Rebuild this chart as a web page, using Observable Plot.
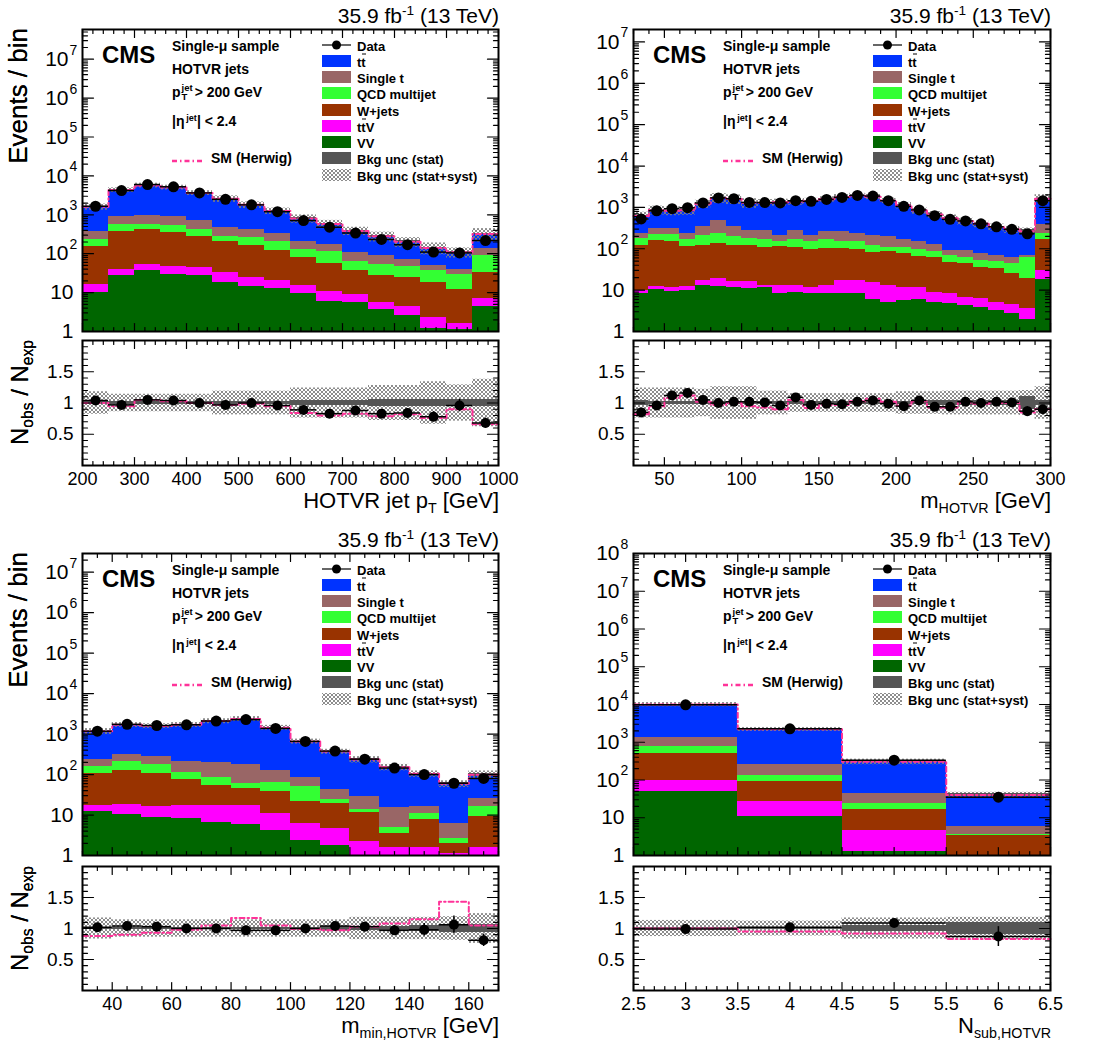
<!DOCTYPE html>
<html>
<head>
<meta charset="utf-8">
<script src="https://cdn.jsdelivr.net/npm/d3@7"></script>
<script src="https://cdn.jsdelivr.net/npm/@observablehq/plot@0.6"></script>
<style>
html,body{margin:0;padding:0;background:#fff;}
#root{position:relative;width:1094px;height:1048px;overflow:hidden;font-family:"Liberation Sans",Arial,Helvetica,sans-serif;color:#000;}
.abs{position:absolute;white-space:nowrap;line-height:1;}
.plotbox{position:absolute;}
sub{font-size:65%;vertical-align:-0.35em;line-height:0;}
sup{font-size:65%;vertical-align:0.55em;line-height:0;}
.ov{position:relative;display:inline-block;}
.ov::before{content:"";position:absolute;left:1px;right:0;top:-2px;border-top:1.4px solid #000;}
.ss{display:inline-flex;flex-direction:column;font-size:68%;line-height:1.05;vertical-align:middle;margin-left:1px;margin-right:2px;}
</style>
</head>
<body>
<svg width="0" height="0" style="position:absolute;left:0;top:0">
<defs>
<pattern id="hatch" patternUnits="userSpaceOnUse" width="4" height="4">
<path d="M0,0L4,4M4,0L0,4M-1,3L1,5M3,-1L5,1M-1,1L1,-1M3,5L5,3" stroke="#808080" stroke-width="0.9" fill="none"/>
</pattern>
</defs>
</svg>
<div id="root"></div>
<script>
// ---------------- DATA ----------------
// Panel A: HOTVR jet pT
const ptEdges   = [200,250,300,350,400,450,500,550,600,650,700,750,800,850,900,950,1000];
const ptData    = [1660,4200,6000,5250,3650,2500,1800,1200,710,480,340,232,170,110,105,218];
const ptTotal   = [1600,4330,5700,5050,3650,2580,1800,1250,800,580,386,280,202,141,109,320]; // top of tt̄ layer
const ptSingleT = [380,920,960,920,710,470,410,325,205,170,107,92,70,50,39,134];           // top of single t layer
const ptQCD     = [227,575,550,530,420,280,265,210,126,112,63,52,48,37,29,90];
const ptWjets   = [156,370,430,360,280,210,160,118,80,57,36,27,25,18.6,11.8,32];
const ptTTV     = [16,40,53,48,45,32,24,21,15,10.7,8.9,5.7,4.5,2.3,1.6,7.2];
const ptVV      = [10,27,36,29,27,18,14,13,9.3,6,5.7,3.6,2.6,1.2,1.15,4.4];
const ptRatio   = [1.04,0.97,1.05,1.04,1.0,0.97,1.0,0.96,0.89,0.83,0.88,0.83,0.84,0.78,0.96,0.68];
const ptRatioErr= [0.02,0.015,0.015,0.015,0.02,0.02,0.025,0.03,0.04,0.045,0.05,0.06,0.07,0.08,0.1,0.08];
const ptSyst    = [0.18,0.14,0.14,0.14,0.14,0.19,0.19,0.19,0.24,0.24,0.24,0.28,0.28,0.34,0.29,0.38];
const ptStat    = [0.025,0.02,0.02,0.02,0.02,0.025,0.025,0.03,0.04,0.045,0.045,0.05,0.05,0.05,0.06,0.05];
const ptHerwig  = [1.0,0.95,1.05,1.03,1.0,0.97,0.99,0.95,0.84,0.8,0.83,0.79,0.82,0.76,0.9,0.66];
const ptXTicks  = [200,300,400,500,600,700,800,900,1000];

// Panel B: m_HOTVR
const mEdges   = [30,40,50,60,70,80,90,100,110,120,130,140,150,160,170,180,190,200,210,220,230,240,250,260,270,280,290,300];
const mData    = [525,830,930,985,1280,1700,1620,1320,1310,1280,1450,1400,1560,1740,1950,1880,1450,1060,870,630,515,470,400,340,295,230,1450];
const mTotal   = [618,865,830,850,1220,1700,1590,1290,1300,1330,1330,1440,1580,1780,1910,1810,1460,1120,840,670,550,460,400,333,292,264,1610];
const mSingleT = [240,310,310,240,340,470,350,275,275,204,275,212,258,258,228,208,196,166,148,128,89,92,75,70,62,70,395];
const mQCD     = [178,219,219,163,207,240,196,182,172,148,163,151,163,148,148,117,109,107,94,87,67,62,52,50,45,60,228];
const mWjets   = [119,157,151,113,119,135,119,119,109,114,109,94,99,99,94,82,85,79,66,60,47,43,36,33,25,19,163];
const mTTV     = [9.8,12.4,11.7,12.4,17,19.4,16.1,16.1,12.9,12.9,12.9,11.7,12.9,17,17,15.5,12.9,11.7,11.7,8.9,8.1,6.7,6.4,5.1,4.5,3.5,30];
const mVV      = [8.1,10.1,9.4,9.8,12.9,12.4,11.3,10.7,11.7,8.1,8.7,8.1,8.4,8.4,8.4,6.1,5.1,5.6,6.1,5.1,4.7,4.2,3.9,3.2,2.7,2.0,17.6];
const mRatio   = [0.85,0.96,1.12,1.16,1.05,1.0,1.02,1.02,1.01,0.96,1.09,0.97,0.99,0.98,1.02,1.04,0.99,0.95,1.04,0.94,0.94,1.02,1.0,1.02,1.01,0.87,0.90];
const mRatioErr= [0.045,0.035,0.035,0.035,0.03,0.025,0.025,0.03,0.03,0.03,0.03,0.03,0.025,0.025,0.025,0.025,0.03,0.03,0.035,0.04,0.045,0.045,0.05,0.055,0.06,0.07,0.03];
const mSyst    = [0.24,0.24,0.24,0.24,0.22,0.26,0.26,0.26,0.19,0.19,0.15,0.15,0.15,0.15,0.15,0.15,0.15,0.18,0.18,0.18,0.19,0.19,0.19,0.19,0.19,0.2,0.26];
const mStat    = [0.04,0.03,0.03,0.03,0.03,0.03,0.03,0.03,0.03,0.03,0.03,0.03,0.03,0.03,0.03,0.03,0.03,0.03,0.03,0.035,0.035,0.035,0.04,0.04,0.04,0.1,0.04];
const mHerwig  = [0.82,0.95,1.08,1.12,1.02,0.97,1.0,0.95,0.93,0.9,1.05,0.92,0.97,0.97,1.03,1.07,1.02,0.96,1.03,0.93,0.93,1.0,0.99,1.0,1.0,0.85,0.9];
const mXTicks  = [50,100,150,200,250,300];

// Panel C: m_min,HOTVR
const minEdges   = [30,40,50,60,70,80,90,100,110,120,130,140,150,160,170];
const minData    = [1180,1740,1630,1700,2100,2280,1380,660,380,240,145,100,61,80];
const minTotal   = [1170,1690,1580,1700,2100,2375,1440,660,370,235,151,104,59,99];
const minSingleT = [240,315,275,205,200,180,128,87,42,28,15,16.7,6.3,25];
const minQCD     = [155,205,180,112,84,60,62,51,24,14,5.0,10.8,2.7,15.8];
const minWjets   = [104,128,105,75,54,45,39,22,19,11.4,3.4,7.7,2.0,9.0];
const minTTV     = [17.4,18,16.4,17.4,17.4,17.4,10.8,6.1,4.6,2.2,1.6,1.6,1.1,1.6];
const minVV      = [11.9,10.6,8.9,8.1,6.5,5.9,4.2,2.4,1.8,0.8,0.8,0.8,0.8,0.8];
const minRatio   = [1.02,1.04,1.03,1.0,1.0,0.97,0.97,1.0,1.04,1.03,0.97,0.98,1.06,0.81];
const minRatioErr= [0.03,0.025,0.025,0.025,0.02,0.02,0.03,0.04,0.05,0.07,0.08,0.1,0.14,0.1];
const minSyst    = [0.17,0.14,0.14,0.14,0.14,0.14,0.14,0.14,0.14,0.18,0.18,0.18,0.19,0.24];
const minStat    = [0.015,0.015,0.015,0.015,0.015,0.015,0.02,0.02,0.03,0.035,0.04,0.05,0.06,0.07];
const minHerwig  = [0.88,0.9,0.93,0.98,1.05,1.17,1.05,0.99,0.97,1.03,1.08,1.15,1.43,1.05];
const minXTicks  = [40,60,80,100,120,140,160];

// Panel D: N_sub,HOTVR
const nEdges   = [2.5,3.5,4.5,5.5,6.5];
const nData    = [9800,2270,335,35];
const nTotal   = [10000,2200,305,40];
const nSingleT = [1370,250,43,5.7];
const nQCD     = [790,132,24.4,3.6];
const nWjets   = [495,93,16.2,3.3];
const nTTV     = [99,27.5,4.7,0.9];
const nVV      = [50,10.6,1.3,0.8];
const nRatio   = [0.99,1.02,1.09,0.87];
const nRatioErr= [0.01,0.02,0.06,0.16];
const nSyst    = [0.13,0.12,0.17,0.18];
const nStat    = [0.015,0.02,0.05,0.1];
const nHerwig  = [1.0,0.95,0.92,0.83];
const nXTicks  = [2.5,3,3.5,4,4.5,5,5.5,6,6.5];

// Text
const lumiText = '35.9 fb<sup>-1</sup> (13 TeV)';
const infoLines = ['Single-\u03bc sample', 'HOTVR jets', 'p<span class="ss"><span>jet</span><span>T</span></span>&gt; 200 GeV', '|\u03b7<sup>&thinsp;jet</sup>| &lt; 2.4'];
const herwigLabel = 'SM (Herwig)';
const legendLabels = ['Data', 't<span class="ov">t</span>', 'Single t', 'QCD multijet', 'W+jets', 't<span class="ov">t</span>V', 'VV', 'Bkg unc (stat)', 'Bkg unc (stat+syst)'];
const yTitleMain = 'Events / bin';
const yTitleRatio = 'N<sub>obs</sub> / N<sub>exp</sub>';

const C = {tt:"#0033ff", st:"#996666", qcd:"#33ff33", w:"#993300", ttv:"#ff00ff", vv:"#006600", stat:"#555555", herwig:"#ff3399"};
const legendKinds = ["data", C.tt, C.st, C.qcd, C.w, C.ttv, C.vv, C.stat, "hatch"];

const panels = [
  {fx0:82, fx1:498, fy0:29, fy1:331, ry0:340, ry1:465, ymax:5.8e7, edges:ptEdges, data:ptData, total:ptTotal, st:ptSingleT, qcd:ptQCD, w:ptWjets, ttv:ptTTV, vv:ptVV,
   ratio:ptRatio, rerr:ptRatioErr, syst:ptSyst, stat:ptStat, herwig:ptHerwig, xTicks:ptXTicks, xMinorStep:20, xTitle:'HOTVR jet p<sub>T</sub> [GeV]'},
  {fx0:633, fx1:1050, fy0:29, fy1:331, ry0:340, ry1:465, ymax:2e7, edges:mEdges, data:mData, total:mTotal, st:mSingleT, qcd:mQCD, w:mWjets, ttv:mTTV, vv:mVV,
   ratio:mRatio, rerr:mRatioErr, syst:mSyst, stat:mStat, herwig:mHerwig, xTicks:mXTicks, xMinorStep:10, xTitle:'m<sub>HOTVR</sub> [GeV]'},
  {fx0:82, fx1:498, fy0:553, fy1:855, ry0:866, ry1:990, ymax:2.9e7, edges:minEdges, data:minData, total:minTotal, st:minSingleT, qcd:minQCD, w:minWjets, ttv:minTTV, vv:minVV,
   ratio:minRatio, rerr:minRatioErr, syst:minSyst, stat:minStat, herwig:minHerwig, xTicks:minXTicks, xMinorStep:5, xTitle:'m<sub>min,HOTVR</sub> [GeV]'},
  {fx0:633, fx1:1050, fy0:553, fy1:855, ry0:866, ry1:990, ymax:1e8, edges:nEdges, data:nData, total:nTotal, st:nSingleT, qcd:nQCD, w:nWjets, ttv:nTTV, vv:nVV,
   ratio:nRatio, rerr:nRatioErr, syst:nSyst, stat:nStat, herwig:nHerwig, xTicks:nXTicks, xMinorStep:0.1, xTitle:'N<sub>sub,HOTVR</sub>'}
];

// ---------------- DRAWING ----------------
const root = document.getElementById("root");
const FONT = '"Liberation Sans", Arial, Helvetica, sans-serif';
const ML = 82, MR = 30, MT = 10, MB = 10, RMB = 42;
const DASH = "5,3,1.5,3";

function binsOf(p){ return p.data.map((v,i)=>({i, lo:p.edges[i], hi:p.edges[i+1], mid:(p.edges[i]+p.edges[i+1])/2})); }
const tickShape = {draw(c,l){ c.moveTo(0,0); c.lineTo(0,-l); }};
function tickVec(data, o){ return Plot.vector(data, {shape:tickShape, anchor:"start", stroke:"black", strokeWidth:1.2, ...o}); }
function frameTicks(xd, yd, xMaj, xMin, yMaj, yMin, xl, yl){
  return [
    tickVec(xMaj, {x:d=>d, y:yd[0], rotate:0, length:xl[0]}),
    tickVec(xMin, {x:d=>d, y:yd[0], rotate:0, length:xl[1]}),
    tickVec(xMaj, {x:d=>d, y:yd[1], rotate:180, length:xl[0]}),
    tickVec(xMin, {x:d=>d, y:yd[1], rotate:180, length:xl[1]}),
    tickVec(yMaj, {y:d=>d, x:xd[0], rotate:90, length:yl[0]}),
    tickVec(yMin, {y:d=>d, x:xd[0], rotate:90, length:yl[1]}),
    tickVec(yMaj, {y:d=>d, x:xd[1], rotate:270, length:yl[0]}),
    tickVec(yMin, {y:d=>d, x:xd[1], rotate:270, length:yl[1]})
  ];
}
function stepPts(B, arr){ return B.flatMap(d=>[{x:d.lo, y:arr[d.i]}, {x:d.hi, y:arr[d.i]}]); }
function minorX(p, xd){
  const n = Math.round((xd[1]-xd[0])/p.xMinorStep);
  return d3.range(n+1).map(k=>+(xd[0]+k*p.xMinorStep).toFixed(6)).filter(v=>!p.xTicks.some(t=>Math.abs(t-v)<1e-6));
}

function mainPlot(p){
  const B = binsOf(p);
  const xd = [p.edges[0], p.edges[p.edges.length-1]], yd = [1, p.ymax];
  const layers = [[p.total,C.tt],[p.st,C.st],[p.qcd,C.qcd],[p.w,C.w],[p.ttv,C.ttv],[p.vv,C.vv]];
  const dec = []; for (let k=0; Math.pow(10,k) <= p.ymax*1.0001; k++) dec.push(Math.pow(10,k));
  const yMinor = []; for (let k=0; Math.pow(10,k) < p.ymax; k++) for (let m=2;m<=9;m++){ const v=m*Math.pow(10,k); if (v<p.ymax) yMinor.push(v); }
  return Plot.plot({
    width:(p.fx1-p.fx0)+ML+MR, height:(p.fy1-p.fy0)+MT+MB,
    marginLeft:ML, marginRight:MR, marginTop:MT, marginBottom:MB,
    style:{background:"transparent", overflow:"visible", fontFamily:FONT, fontSize:"18px"},
    x:{domain:xd, axis:null},
    y:{type:"log", domain:yd, axis:null},
    marks:[
      ...layers.map(([arr,col]) => Plot.rect(B, {x1:"lo", x2:"hi", y1:1, y2:d=>arr[d.i], fill:col, clip:true, shapeRendering:"crispEdges"})),
      Plot.rect(B, {x1:"lo", x2:"hi", y1:d=>p.total[d.i]*(1-p.syst[d.i]), y2:d=>p.total[d.i]*(1+p.syst[d.i]), fill:"url(#hatch)"}),
      Plot.rect(B, {x1:"lo", x2:"hi", y1:d=>p.total[d.i]*(1-p.stat[d.i]), y2:d=>p.total[d.i]*(1+p.stat[d.i]), fill:C.stat, shapeRendering:"crispEdges"}),
      Plot.line(stepPts(B, p.total), {x:"x", y:"y", stroke:C.herwig, strokeWidth:2, strokeDasharray:DASH}),
      Plot.ruleY(B, {x1:"lo", x2:"hi", y:d=>p.data[d.i], stroke:"black", strokeWidth:1.5}),
      Plot.dot(B, {x:"mid", y:d=>p.data[d.i], r:5.5, fill:"black", stroke:"none"}),
      ...frameTicks(xd, yd, p.xTicks, minorX(p, xd), dec, yMinor, [8,4], [11,5]),
      Plot.frame({stroke:"black", strokeWidth:2}),
      Plot.text(dec.filter(v=>v<100), {y:d=>d, frameAnchor:"left", text:d=>String(d), textAnchor:"end", dx:-9, fontSize:21}),
      Plot.text(dec.filter(v=>v>=100), {y:d=>d, frameAnchor:"left", text:()=>"10", textAnchor:"end", dx:-14, fontSize:21}),
      Plot.text(dec.filter(v=>v>=100), {y:d=>d, frameAnchor:"left", text:d=>String(Math.round(Math.log10(d))), textAnchor:"start", dx:-13, dy:-9, fontSize:14})
    ]
  });
}

function ratioPlot(p){
  const B = binsOf(p);
  const xd = [p.edges[0], p.edges[p.edges.length-1]], yd = [0, 2];
  const yMaj = [0.5, 1, 1.5];
  const yMin = d3.range(1,20).map(k=>k/10).filter(v=>![5,10,15].includes(Math.round(v*10)));
  return Plot.plot({
    width:(p.fx1-p.fx0)+ML+MR, height:(p.ry1-p.ry0)+MT+RMB,
    marginLeft:ML, marginRight:MR, marginTop:MT, marginBottom:RMB,
    style:{background:"transparent", overflow:"visible", fontFamily:FONT, fontSize:"18px"},
    x:{domain:xd, axis:null},
    y:{domain:yd, axis:null},
    marks:[
      Plot.rect(B, {x1:"lo", x2:"hi", y1:d=>1-p.syst[d.i], y2:d=>1+p.syst[d.i], fill:"url(#hatch)"}),
      Plot.rect(B, {x1:"lo", x2:"hi", y1:d=>1-p.stat[d.i], y2:d=>1+p.stat[d.i], fill:C.stat, shapeRendering:"crispEdges"}),
      Plot.line(stepPts(B, p.herwig), {x:"x", y:"y", stroke:C.herwig, strokeWidth:2, strokeDasharray:DASH}),
      Plot.ruleX(B, {x:"mid", y1:d=>p.ratio[d.i]-p.rerr[d.i], y2:d=>p.ratio[d.i]+p.rerr[d.i], stroke:"black", strokeWidth:1.5}),
      Plot.ruleY(B, {x1:"lo", x2:"hi", y:d=>p.ratio[d.i], stroke:"black", strokeWidth:1.5}),
      Plot.dot(B, {x:"mid", y:d=>p.ratio[d.i], r:5, fill:"black", stroke:"none"}),
      ...frameTicks(xd, yd, p.xTicks, minorX(p, xd), yMaj, yMin, [8,4], [11,5]),
      Plot.frame({stroke:"black", strokeWidth:2}),
      Plot.text(yMaj, {y:d=>d, frameAnchor:"left", text:d=>String(d), textAnchor:"end", dx:-9, fontSize:19}),
      Plot.text(p.xTicks, {x:d=>d, frameAnchor:"bottom", text:d=>String(d), lineAnchor:"top", dy:7, fontSize:18})
    ]
  });
}

function place(svg, left, top){
  const d = document.createElement("div");
  d.className = "plotbox";
  d.style.left = left+"px"; d.style.top = top+"px";
  d.appendChild(svg); root.appendChild(d);
}
function put(html, x, y, opt={}){
  const d = document.createElement("div");
  d.className = "abs";
  d.innerHTML = html;
  d.style.left = x+"px"; d.style.top = y+"px";
  d.style.fontSize = (opt.size||14)+"px";
  if (opt.bold) d.style.fontWeight = "bold";
  d.style.transform = opt.anchor==="end" ? "translate(-100%,-50%)" : "translate(0,-50%)";
  root.appendChild(d);
  return d;
}
function putRot(html, x, yEnd, size){
  const w = document.createElement("div");
  w.className = "abs";
  w.style.left = x+"px"; w.style.top = yEnd+"px"; w.style.width = "0"; w.style.height = "0";
  w.style.transform = "rotate(-90deg)"; w.style.transformOrigin = "0 0";
  const c = document.createElement("div");
  c.className = "abs";
  c.style.right = "0"; c.style.top = "0"; c.style.transform = "translateY(-50%)";
  c.style.fontSize = size+"px"; c.innerHTML = html;
  w.appendChild(c); root.appendChild(w);
}
function swatch(kind){
  if (kind === "data") return '<svg width="29" height="12"><line x1="0" y1="6" x2="29" y2="6" stroke="#333" stroke-width="1.5"/><circle cx="14.5" cy="6" r="4.5" fill="black"/></svg>';
  if (kind === "hatch") return '<svg width="29" height="12"><rect width="29" height="12" fill="url(#hatch)"/></svg>';
  return '<svg width="29" height="12"><rect width="29" height="12" fill="'+kind+'"/></svg>';
}

panels.forEach(p=>{
  place(mainPlot(p), p.fx0-ML, p.fy0-MT);
  place(ratioPlot(p), p.fx0-ML, p.ry0-MT);
  put(lumiText, p.fx1+1, p.fy0-14.5, {size:21, anchor:"end"});
  put('CMS', p.fx0+20, p.fy0+26, {size:24, bold:true});
  const infoY = [16.7, 40, 63.5, 92];
  infoLines.forEach((t,k)=>put(t, p.fx0+90, p.fy0+infoY[k], {size:14, bold:true}));
  put('<svg width="31" height="6"><line x1="0" y1="3" x2="31" y2="3" stroke="'+C.herwig+'" stroke-width="2.5" stroke-dasharray="'+DASH+'"/></svg>', p.fx0+90, p.fy0+130, {});
  put(herwigLabel, p.fx0+129, p.fy0+129, {size:14, bold:true});
  legendLabels.forEach((lab,k)=>{
    const yy = p.fy0+16.7+16.25*k;
    put(swatch(legendKinds[k]), p.fx0+240, yy, {});
    put(lab, p.fx0+275, yy, {size:13, bold:true});
  });
  putRot(yTitleMain, 18, p.fy0-1, 26);
  putRot(yTitleRatio, 20, p.ry0, 24);
  put(p.xTitle, p.fx1+1, p.ry1+36, {size:22, anchor:"end"});
});
</script>
</body>
</html>
